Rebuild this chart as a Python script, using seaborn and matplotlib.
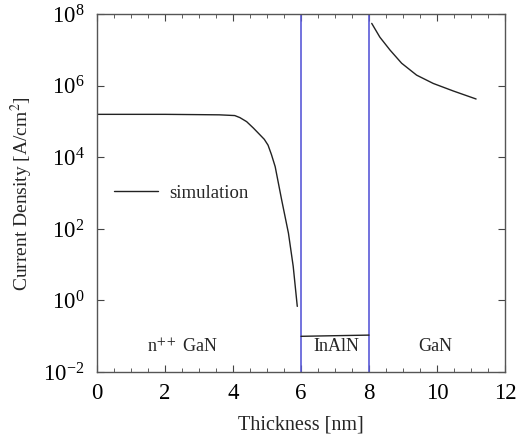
import numpy as np
import pandas as pd
import matplotlib
matplotlib.use('Agg')
import matplotlib.pyplot as plt
import matplotlib.ticker as mticker
import seaborn as sns

# n++ GaN region
x_ngan = [0, 1, 2, 3, 3.6, 4.05, 4.2, 4.4, 4.6, 4.8, 4.92, 5.03, 5.13, 5.24, 5.43, 5.63, 5.77, 5.89]
j_ngan = [1.6e5, 1.6e5, 1.6e5, 1.57e5, 1.55e5, 1.48e5, 1.3e5, 1.0e5, 6.6e4, 4.2e4,
          3.2e4, 2.2e4, 1.2e4, 5.5e3, 6.5e2, 7.6e1, 9.0, 0.68]
# InAlN barrier
x_inaln = [6.0, 7.0, 8.0]
j_inaln = [0.099, 0.103, 0.107]
# GaN region
x_gan = [8.08, 8.32, 8.62, 8.96, 9.4, 9.89, 10.48, 11.15]
j_gan = [5.6e7, 2.3e7, 1.0e7, 4.3e6, 2.0e6, 1.17e6, 7.2e5, 4.3e5]

interfaces = [6, 8]
region_labels = ['n$^{++}$ GaN', 'InAlN', 'GaN']
region_x = [2.5, 7.05, 9.95]
yticks = [1e-2, 1e0, 1e2, 1e4, 1e6, 1e8]

sns.set_style('ticks')
plt.rcParams['font.family'] = ['Liberation Serif', 'DejaVu Serif']
plt.rcParams['mathtext.fontset'] = 'stix'

fig = plt.figure(figsize=(5.19, 4.36), dpi=100)
ax = fig.add_axes([0.187, 0.147, 0.786, 0.820])

line_col = '#222222'
sns.lineplot(x=x_ngan, y=j_ngan, ax=ax, color=line_col, lw=1.0, sort=False, label='simulation')
sns.lineplot(x=x_inaln, y=j_inaln, ax=ax, color=line_col, lw=1.0, sort=False)
sns.lineplot(x=x_gan, y=j_gan, ax=ax, color=line_col, lw=1.0, sort=False)

for xi in interfaces:
    ax.axvline(xi, color='#5a5ad8', lw=1.2, zorder=1)

ax.set_yscale('log')
ax.set_xlim(0, 12)
ax.set_ylim(1e-2, 1e8)
ax.set_yticks(yticks)
ax.yaxis.set_minor_locator(mticker.NullLocator())
ax.yaxis.set_major_formatter(mticker.LogFormatterMathtext())
ax.set_xticks(range(0, 13, 2))
ax.xaxis.set_minor_locator(mticker.MultipleLocator(0.5))
ax.tick_params(which='both', direction='in', top=True, right=True, colors='#444444',
               labelcolor='black')
ax.tick_params(which='major', length=5, labelsize=16.5)
ax.tick_params(axis='x', which='major', pad=8)
ax.tick_params(axis='y', which='major', pad=9)
ax.tick_params(which='minor', length=3)
for s in ax.spines.values():
    s.set_color('#555555')
    s.set_linewidth(1.0)

ax.set_xlabel('Thickness [nm]', fontsize=14.5, labelpad=8)
ax.set_ylabel('Current Density [A/cm$^2$]', fontsize=14, labelpad=6)

for lab, xp in zip(region_labels, region_x):
    ax.text(xp, 0.05, lab, ha='center', va='center', fontsize=13)

ax.legend(loc='center left', bbox_to_anchor=(0.0, 0.5), frameon=False, fontsize=13.5,
          handlelength=2.35, handletextpad=0.6)

fig.savefig('out.png', dpi=100)
